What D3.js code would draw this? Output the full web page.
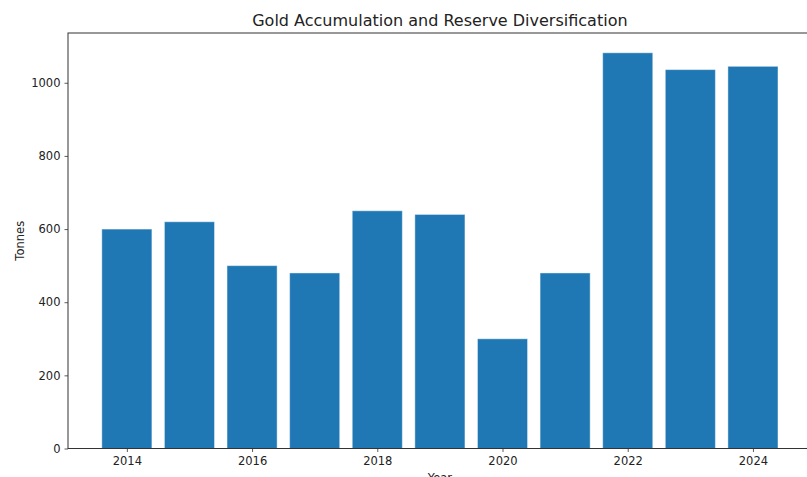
<!DOCTYPE html>
<html>
<head>
<meta charset="utf-8">
<script src="https://cdn.jsdelivr.net/npm/d3@7"></script>
<style>
  body { margin: 0; background: #fff; }
  svg text { font-family: "DejaVu Sans", sans-serif; fill: #222; }
</style>
</head>
<body>
<script>
// chart data
var years = [2014, 2015, 2016, 2017, 2018, 2019, 2020, 2021, 2022, 2023, 2024];
var tonnes = [600, 620, 500, 480, 650, 640, 300, 480, 1082, 1036, 1045];
var yTicks = [0, 200, 400, 600, 800, 1000];
var xTicks = [2014, 2016, 2018, 2020, 2022, 2024];

var width = 807, height = 477;
var margin = {left: 68, top: 33, bottom: 448.5};

var svg = d3.select("body").append("svg")
    .attr("width", width)
    .attr("height", height);

// x is continuous like matplotlib (bar width 0.8, 5% margins)
var x = d3.scaleLinear()
    .domain([2013.06, 2024.94])
    .range([margin.left, 811.8]);

var y = d3.scaleLinear()
    .domain([0, 1136.1])
    .range([margin.bottom, margin.top]);

// bars
svg.selectAll(".bar")
    .data(years)
    .enter()
    .append("rect")
    .attr("class", "bar")
    .attr("x", function(d){ return x(d - 0.4); })
    .attr("width", function(d){ return x(d + 0.4) - x(d - 0.4); })
    .attr("y", function(d, i){ return y(tonnes[i]); })
    .attr("height", function(d, i){ return y(0) - y(tonnes[i]); })
    .attr("fill", "#1f77b4")
    .attr("stroke", "rgba(255,255,255,0.45)")
    .attr("stroke-width", 1);

// axes
var xAxis = svg.append("g")
    .attr("transform", "translate(0," + margin.bottom + ")")
    .call(d3.axisBottom(x).tickValues(xTicks).tickFormat(d3.format("d")).tickSize(3.5).tickPadding(5));

var yAxis = svg.append("g")
    .attr("transform", "translate(" + margin.left + ",0)")
    .call(d3.axisLeft(y).tickValues(yTicks).tickFormat(d3.format("d")).tickSize(3.5).tickPadding(4));

[xAxis, yAxis].forEach(function(g){
    g.select(".domain").remove();
    g.selectAll("line").attr("stroke", "#333").attr("stroke-width", 0.8);
    g.selectAll("text").attr("font-size", "11.5px").style("font-family", "DejaVu Sans, sans-serif").attr("fill", "#222");
});

// spines
svg.append("rect")
    .attr("x", margin.left)
    .attr("y", margin.top)
    .attr("width", x.range()[1] - margin.left)
    .attr("height", margin.bottom - margin.top)
    .attr("fill", "none")
    .attr("stroke", "#333")
    .attr("stroke-width", 1);

// title and labels
svg.append("text")
    .attr("x", (margin.left + 811.8) / 2)
    .attr("y", 26)
    .attr("text-anchor", "middle")
    .attr("font-size", "16px")
    .text("Gold Accumulation and Reserve Diversification");

svg.append("text")
    .attr("transform", "translate(24," + ((margin.top + margin.bottom) / 2) + ") rotate(-90)")
    .attr("text-anchor", "middle")
    .attr("font-size", "11.5px")
    .text("Tonnes");

// x label sits partly below the bottom edge, as in the reference
svg.append("text")
    .attr("x", (margin.left + 811.8) / 2)
    .attr("y", 482)
    .attr("text-anchor", "middle")
    .attr("font-size", "11.5px")
    .text("Year");
</script>
</body>
</html>
